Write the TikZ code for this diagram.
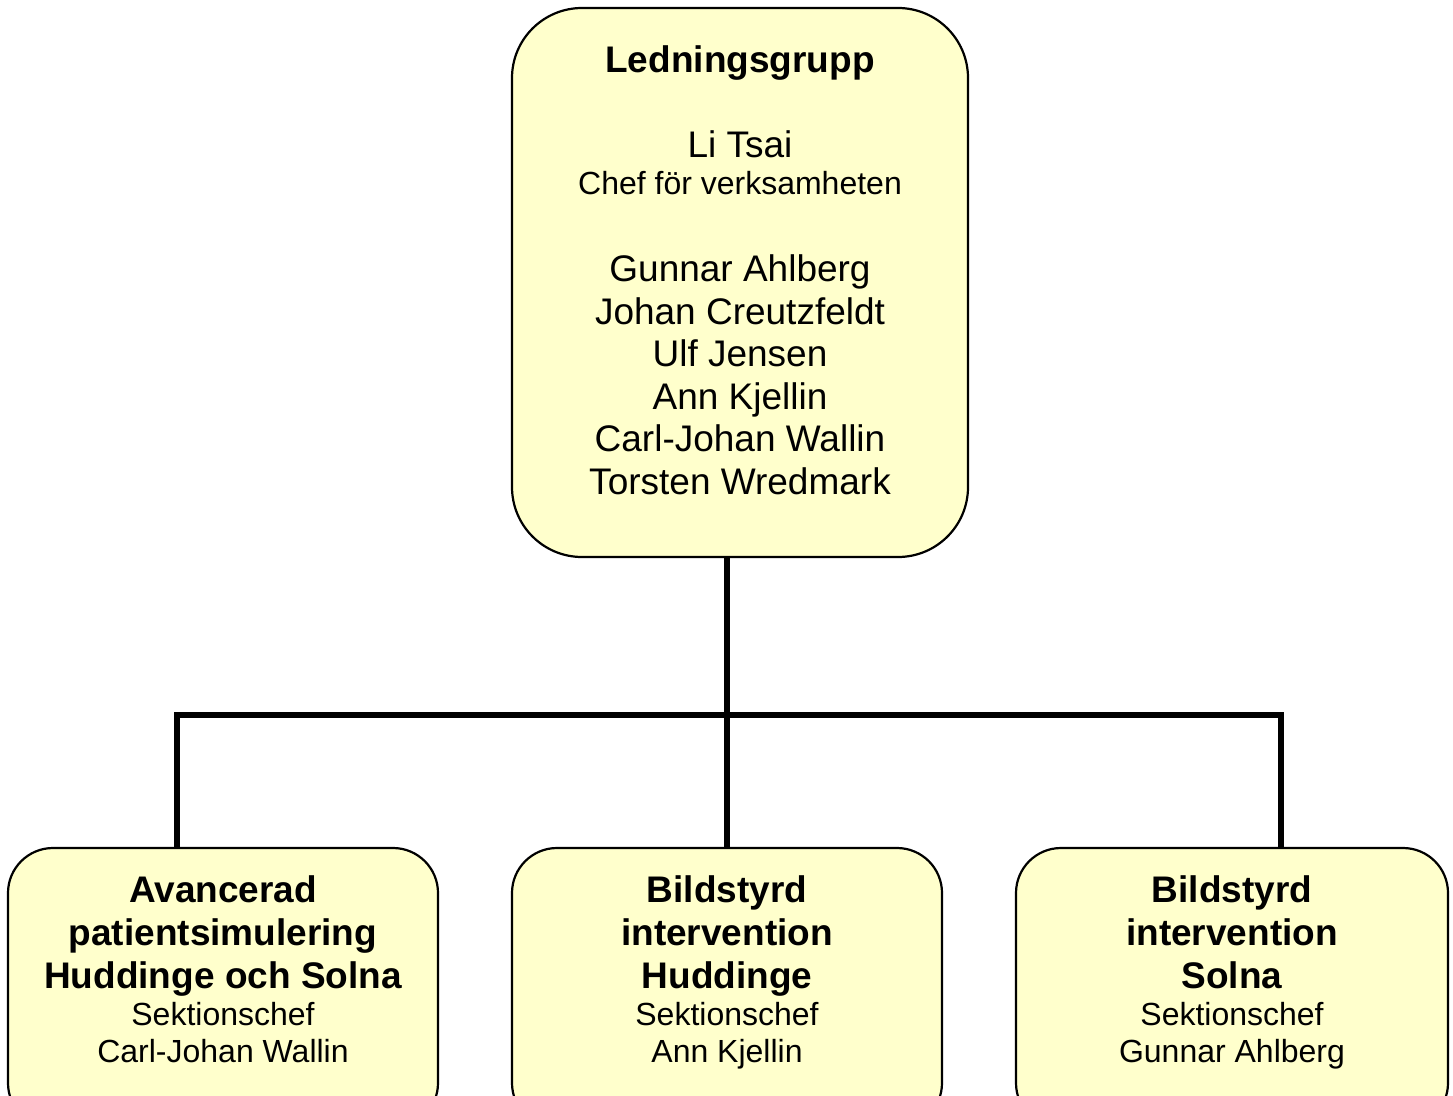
\documentclass[tikz,border=0pt]{standalone}
\usepackage{fontspec}
\setmainfont{Liberation Sans}
\definecolor{boxfill}{HTML}{FFFFCC}
\begin{document}
\begin{tikzpicture}[x=1pt,y=-1pt,
  orgbox/.style={draw=black,line width=2.2pt,fill=boxfill,rectangle,inner sep=0pt,outer sep=0pt,anchor=north west},
  big/.style={anchor=base,inner sep=0pt,font=\fontsize{37}{43}\selectfont},
  bigb/.style={anchor=base,inner sep=0pt,font=\fontsize{37}{43}\selectfont\bfseries},
  small/.style={anchor=base,inner sep=0pt,font=\fontsize{32}{37}\selectfont},
  conn/.style={line width=6pt,draw=black}]
\useasboundingbox (0,0) rectangle (1453,1095);
\clip (0,0) rectangle (1453,1095);
% boxes
\node[orgbox,rounded corners=70pt,minimum width=456pt,minimum height=549pt] (top) at (512,8) {};
\node[orgbox,rounded corners=45pt,minimum width=430pt,minimum height=280pt] (left) at (8,848) {};
\node[orgbox,rounded corners=45pt,minimum width=430pt,minimum height=280pt] (mid) at (512,848) {};
\node[orgbox,rounded corners=45pt,minimum width=432pt,minimum height=280pt] (right) at (1016,848) {};
% connectors
\coordinate (bl) at (177,715);
\coordinate (br) at (1281,715);
\draw[conn] (top.south -| mid.north) -- (mid.north);
\draw[conn,line cap=rect] (bl) -- (br);
\draw[conn] (bl) -- (bl |- left.north);
\draw[conn] (br) -- (br |- right.north);
% top texts
\node[bigb] (t1) at (740,72) {Ledningsgrupp};
\node[big] (t2) at (740,157) {Li Tsai};
\node[small] (t3) at (740,194) {Chef för verksamheten};
\node[big] (t4) at (740,281) {Gunnar Ahlberg};
\node[big] (t5) at (740,324) {Johan Creutzfeldt};
\node[big] (t6) at (740,366) {Ulf Jensen};
\node[big] (t7) at (740,409) {Ann Kjellin};
\node[big] (t8) at (740,451) {Carl-Johan Wallin};
\node[big] (t9) at (740,494) {Torsten Wredmark};
% left texts
\node[bigb] (l1) at (223,902) {Avancerad};
\node[bigb] (l2) at (223,945) {patientsimulering};
\node[bigb] (l3) at (223,988) {Huddinge och Solna};
\node[small] (l4) at (223,1025) {Sektionschef};
\node[small] (l5) at (223,1062) {Carl-Johan Wallin};
% mid texts
\node[bigb] (m1) at (727,902) {Bildstyrd};
\node[bigb] (m2) at (727,945) {intervention};
\node[bigb] (m3) at (727,988) {Huddinge};
\node[small] (m4) at (727,1025) {Sektionschef};
\node[small] (m5) at (727,1062) {Ann Kjellin};
% right texts
\node[bigb] (r1) at (1232,902) {Bildstyrd};
\node[bigb] (r2) at (1232,945) {intervention};
\node[bigb] (r3) at (1232,988) {Solna};
\node[small] (r4) at (1232,1025) {Sektionschef};
\node[small] (r5) at (1232,1062) {Gunnar Ahlberg};
\end{tikzpicture}
\end{document}
